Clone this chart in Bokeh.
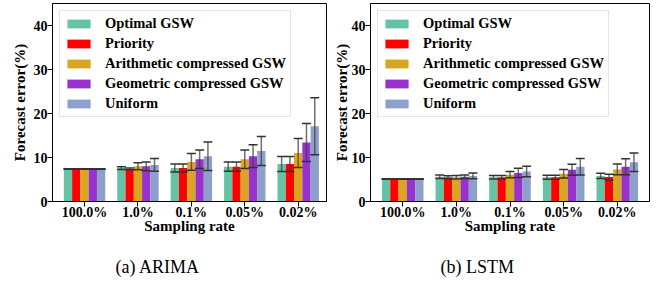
from bokeh.plotting import figure
from bokeh.layouts import row
from bokeh.models import ColumnDataSource, Whisker, TeeHead, FixedTicker, Range1d, Title
from bokeh.embed import file_html
from bokeh.resources import INLINE

rates = ["100.0%", "1.0%", "0.1%", "0.05%", "0.02%"]
series = ["Optimal GSW", "Priority", "Arithmetic compressed GSW",
          "Geometric compressed GSW", "Uniform"]
colors = ["#66c2a5", "#ff0000", "#daa520", "#9932cc", "#8da0cb"]

# ARIMA forecast error (%) and std
arima_opt = [7.4, 7.6, 7.6, 7.9, 8.5]
arima_pri = [7.4, 7.4, 7.6, 7.9, 8.5]
arima_ari = [7.4, 8.0, 9.0, 9.6, 11.0]
arima_geo = [7.4, 8.0, 9.6, 10.3, 13.4]
arima_uni = [7.4, 8.3, 10.3, 11.5, 17.1]
arima_opt_err = [0.05, 0.3, 0.9, 1.05, 1.7]
arima_pri_err = [0.05, 0.2, 0.9, 1.05, 1.7]
arima_ari_err = [0.05, 0.8, 1.9, 2.1, 3.3]
arima_geo_err = [0.05, 1.0, 2.1, 2.6, 4.3]
arima_uni_err = [0.05, 1.45, 3.25, 3.3, 6.5]

# LSTM forecast error (%) and std
lstm_opt = [5.1, 5.6, 5.5, 5.5, 5.8]
lstm_pri = [5.1, 5.5, 5.5, 5.5, 5.55]
lstm_ari = [5.1, 5.5, 6.1, 6.3, 7.3]
lstm_geo = [5.1, 5.6, 6.5, 7.2, 7.9]
lstm_uni = [5.1, 5.8, 6.8, 7.9, 8.9]
lstm_opt_err = [0.05, 0.4, 0.4, 0.45, 0.6]
lstm_pri_err = [0.05, 0.35, 0.4, 0.45, 0.65]
lstm_ari_err = [0.05, 0.4, 0.7, 0.95, 1.2]
lstm_geo_err = [0.05, 0.4, 1.05, 1.25, 1.8]
lstm_uni_err = [0.05, 0.65, 1.2, 1.9, 2.1]

FONT = "Liberation Serif"
BAR_W = 0.155


def make_panel(values, errors, caption, width, border_left, border_right,
               x_end, cap_offset, ylab_standoff):
    p = figure(width=width, height=281, output_backend="svg",
               toolbar_location=None,
               x_range=Range1d(-0.6, x_end), y_range=Range1d(0, 45),
               min_border_left=border_left, min_border_right=border_right,
               min_border_top=3, min_border_bottom=80)
    p.outline_line_color = "black"
    p.outline_line_alpha = 1
    p.outline_line_width = 1
    p.xgrid.visible = False
    p.ygrid.visible = False
    p.background_fill_color = "white"

    for k, (name, col, vals, errs) in enumerate(zip(series, colors, values, errors)):
        xs = [i + (k - 2) * BAR_W for i in range(len(rates))]
        src = ColumnDataSource(dict(
            x=xs, top=vals,
            upper=[v + e for v, e in zip(vals, errs)],
            lower=[v - e for v, e in zip(vals, errs)]))
        p.vbar(x="x", top="top", width=BAR_W, source=src, fill_color=col,
               line_color=None, legend_label=name)
        w = Whisker(source=src, base="x", upper="upper", lower="lower",
                    dimension="height", line_color="#404040", line_alpha=0.75,
                    line_width=1.5, level="overlay",
                    upper_head=TeeHead(size=9, line_color="#333333", line_width=1.5),
                    lower_head=TeeHead(size=9, line_color="#333333", line_width=1.5))
        p.add_layout(w)

    p.xaxis.ticker = FixedTicker(ticks=list(range(len(rates))))
    p.xaxis.major_label_overrides = {i: r for i, r in enumerate(rates)}
    p.yaxis.ticker = FixedTicker(ticks=[0, 10, 20, 30, 40])
    for ax in (p.xaxis[0], p.yaxis[0]):
        ax.major_label_text_font = FONT
        ax.major_label_text_font_style = "bold"
        ax.major_label_text_font_size = "14px"
        ax.major_label_text_color = "black"
        ax.axis_label_text_font = FONT
        ax.axis_label_text_font_style = "bold"
        ax.axis_label_text_font_size = "15px"
        ax.axis_label_text_color = "black"
        ax.major_tick_out = 5
        ax.major_tick_in = 0
        ax.minor_tick_line_color = None
        ax.axis_line_color = "black"
        ax.major_tick_line_color = "black"
    p.xaxis.major_label_standoff = -2
    p.yaxis.major_label_standoff = 0
    p.xaxis.axis_label_standoff = -5
    p.yaxis.axis_label_standoff = ylab_standoff
    p.xaxis.axis_label = "Sampling rate"
    p.yaxis.axis_label = "Forecast error(%)"

    leg = p.legend[0]
    leg.location = "top_left"
    leg.margin = 7
    leg.padding = 4
    leg.spacing = 3
    leg.glyph_height = 11
    leg.glyph_width = 29
    leg.label_height = 11
    leg.label_standoff = 12
    leg.label_text_font = FONT
    leg.label_text_font_style = "bold"
    leg.label_text_font_size = "14.5px"
    leg.label_text_color = "black"
    leg.border_line_color = "#cccccc"
    leg.border_line_width = 1
    leg.background_fill_alpha = 0.8

    p.add_layout(Title(text=" ", text_font_size="2px", standoff=14), "below")
    p.add_layout(Title(text=caption, align="left", offset=cap_offset,
                       text_font=FONT, text_font_style="normal",
                       text_font_size="18px", text_color="black",
                       standoff=0), "below")
    return p


p1 = make_panel([arima_opt, arima_pri, arima_ari, arima_geo, arima_uni],
                [arima_opt_err, arima_pri_err, arima_ari_err, arima_geo_err, arima_uni_err],
                "(a) ARIMA", 330, 52, 4, 4.53, 63, 3)
p2 = make_panel([lstm_opt, lstm_pri, lstm_ari, lstm_geo, lstm_uni],
                [lstm_opt_err, lstm_pri_err, lstm_ari_err, lstm_geo_err, lstm_uni_err],
                "(b) LSTM", 330, 40, 11, 4.6, 70, -1)

p = row(p1, p2)

open("out.html", "w").write(file_html(p, INLINE))
